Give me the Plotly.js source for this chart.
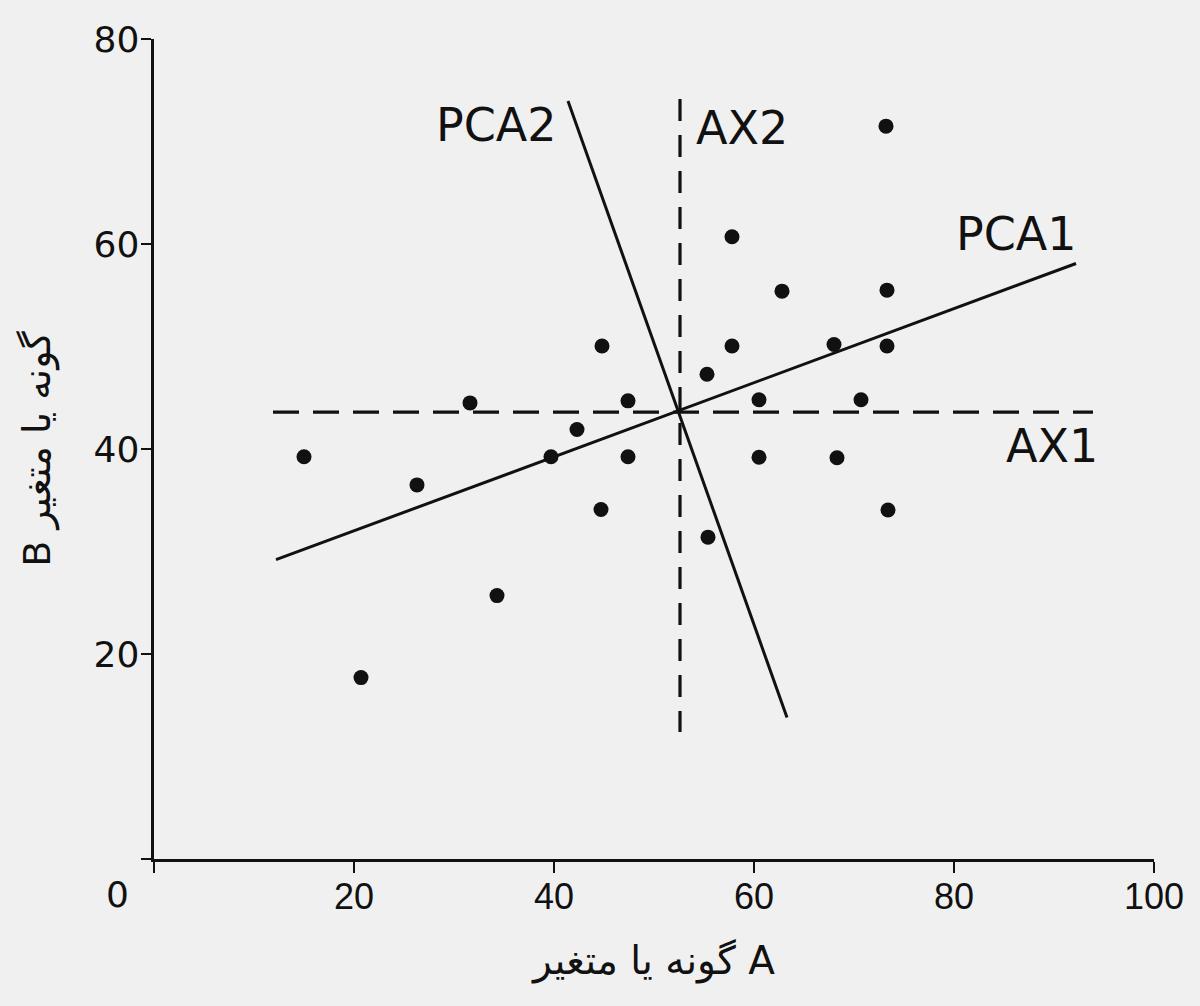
<!DOCTYPE html>
<html>
<head>
<meta charset="utf-8">
<script src="https://cdn.plot.ly/plotly-3.0.1.min.js"></script>
<style>html,body{margin:0;padding:0;background:#f0f0f0;}#chart{width:1200px;height:1006px;}</style>
</head>
<body>
<div id="chart"></div>
<script>
// Observations (variable A, variable B)
const varA = [15.0, 20.7, 26.3, 31.6, 34.3, 39.7, 42.3, 44.8, 44.7, 47.4, 47.4, 55.3, 55.4, 57.8, 57.8, 60.5, 60.5, 62.8, 68.0, 68.3, 70.7, 73.2, 73.3, 73.3, 73.4];
const varB = [39.25, 17.7, 36.5, 44.5, 25.7, 39.25, 41.9, 50.05, 34.1, 44.7, 39.25, 47.3, 31.4, 60.7, 50.05, 44.8, 39.2, 55.4, 50.2, 39.15, 44.8, 71.5, 55.5, 50.05, 34.05];

// Original axes through the centroid (dashed) and principal component axes (solid)
const ax1X = [11.9, 93.9], ax1Y = [43.6, 43.6];
const ax2X = [52.6, 52.6], ax2Y = [74.15, 12.4];
const pca1X = [12.2, 92.2], pca1Y = [29.2, 58.1];
const pca2X = [41.4, 63.3], pca2Y = [73.95, 13.8];

// Axis ticks
const xTickVals = [0, 20, 40, 60, 80, 100];
const xTickText = ['', '20', '40', '60', '80', '100'];
const yTickVals = [0, 20, 40, 60, 80];
const yTickText = ['', '20', '40', '60', '80'];

const axisLabels = [
  {text: 'PCA2', x: 34.25, y: 71.6},
  {text: 'AX2', x: 58.8, y: 71.3},
  {text: 'PCA1', x: 86.2, y: 61.0},
  {text: 'AX1', x: 89.8, y: 40.3}
];

const ink = '#111111';
const labelFont = {family: 'DejaVu Sans, sans-serif', size: 46, color: ink};

const traces = [
  {x: ax1X, y: ax1Y, mode: 'lines', line: {color: ink, width: 3.2, dash: '26px,14px'}, hoverinfo: 'skip', cliponaxis: false},
  {x: ax2X, y: ax2Y, mode: 'lines', line: {color: ink, width: 3.2, dash: '22px,14px'}, hoverinfo: 'skip', cliponaxis: false},
  {x: pca1X, y: pca1Y, mode: 'lines', line: {color: ink, width: 3}, hoverinfo: 'skip', cliponaxis: false},
  {x: pca2X, y: pca2Y, mode: 'lines', line: {color: ink, width: 3}, hoverinfo: 'skip', cliponaxis: false},
  {x: varA, y: varB, mode: 'markers', marker: {color: ink, size: 15, line: {width: 0}}, cliponaxis: false}
];

const annotations = axisLabels.map(l => ({
  text: l.text, x: l.x, y: l.y, xref: 'x', yref: 'y',
  showarrow: false, xanchor: 'center', yanchor: 'middle', font: labelFont
}));
annotations.push({
  text: '0', x: 0, y: 0, xref: 'x', yref: 'y', showarrow: false,
  xanchor: 'center', yanchor: 'middle', xshift: -37, yshift: -35,
  font: {family: 'DejaVu Sans, sans-serif', size: 36, color: ink}
});

const layout = {
  width: 1200, height: 1006,
  margin: {l: 154, r: 46, t: 39, b: 147},
  paper_bgcolor: '#f0f0f0', plot_bgcolor: '#f0f0f0',
  showlegend: false,
  xaxis: {
    range: [0, 100], showgrid: false, zeroline: false,
    showline: true, linecolor: ink, linewidth: 3.4,
    ticks: 'outside', ticklen: 11, tickwidth: 2.8, tickcolor: ink,
    tickvals: xTickVals, ticktext: xTickText,
    tickfont: {family: 'Liberation Sans, sans-serif', size: 36, color: ink},
    ticklabelstandoff: -8,
    title: {text: 'گونه یا متغیر A', font: {family: 'DejaVu Sans, sans-serif', size: 39, color: ink}, standoff: 32}
  },
  yaxis: {
    range: [0, 80], showgrid: false, zeroline: false,
    showline: true, linecolor: ink, linewidth: 3.4,
    ticks: 'outside', ticklen: 10, tickwidth: 2.8, tickcolor: ink,
    tickvals: yTickVals, ticktext: yTickText,
    tickfont: {family: 'DejaVu Sans, sans-serif', size: 36, color: ink},
    ticklabelstandoff: -6,
    title: {text: 'B گونه یا متغیر', font: {family: 'DejaVu Sans, sans-serif', size: 38, color: ink}, standoff: 32}
  },
  annotations: annotations
};

Plotly.newPlot('chart', traces, layout, {staticPlot: true, displayModeBar: false});
</script>
</body>
</html>
